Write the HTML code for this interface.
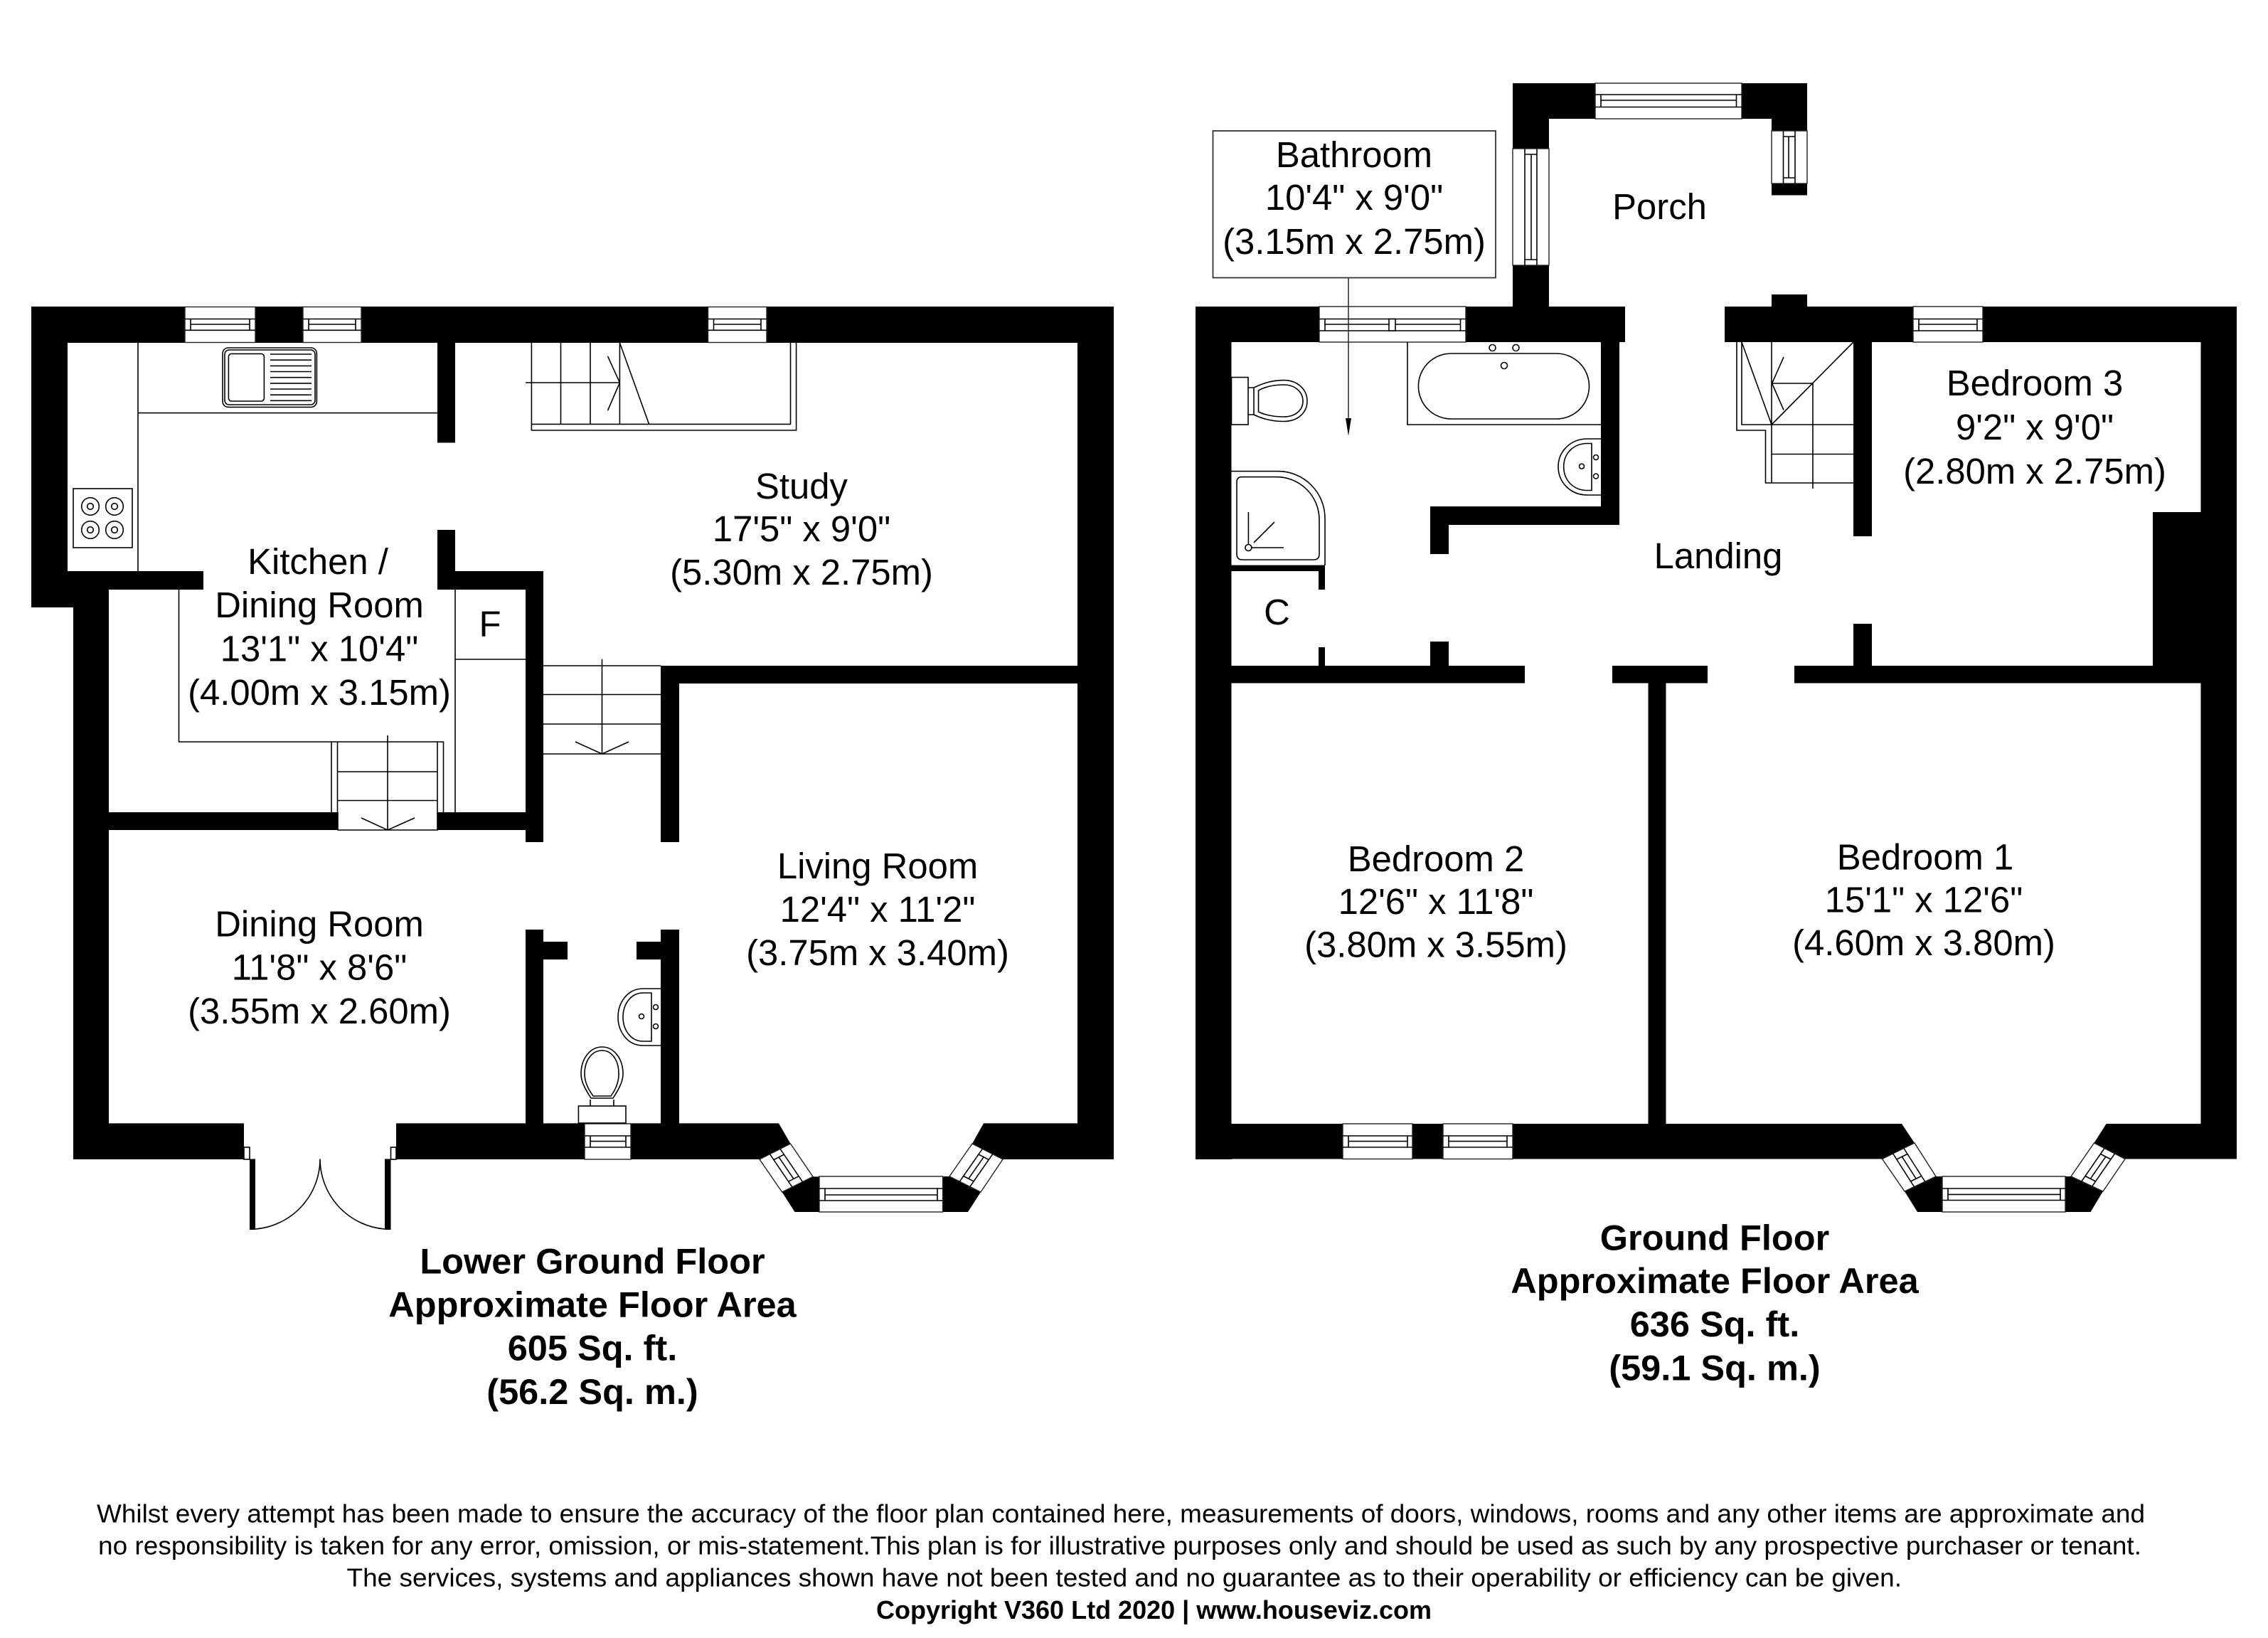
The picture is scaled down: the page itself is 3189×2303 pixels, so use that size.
<!DOCTYPE html>
<html lang="en"><head><meta charset="utf-8"><title>Floor Plan</title>
<style>
html,body{margin:0;padding:0;background:#fff}
svg{display:block}
.l{stroke:#000;stroke-width:1.6;fill:none}
.g{stroke:#333;stroke-width:1.8;fill:#fff}
.w{stroke:#222;stroke-width:1.4;fill:#fff}
.h{stroke:#000;stroke-width:1.6;fill:#fff}
text{font-family:"Liberation Sans",Arial,sans-serif;fill:#000}
.t{font-size:50.800px;text-anchor:middle}
.b{font-size:50.500px;font-weight:bold;text-anchor:middle}
.f{font-size:36px}
</style></head><body>
<svg xmlns="http://www.w3.org/2000/svg" width="3189" height="2303" viewBox="0 0 3189 2303">
<rect width="3189" height="2303" fill="#fff"/>

<!-- LOWER GROUND walls -->
<g fill="#000">
<rect x="44" y="431" width="1522" height="51"/>
<rect x="44" y="431" width="51" height="423"/>
<rect x="44" y="803" width="242" height="26"/>
<rect x="44" y="829" width="109" height="25"/>
<rect x="103" y="829" width="50" height="801"/>
<rect x="103" y="1142" width="372" height="25"/>
<rect x="615" y="1142" width="149" height="25"/>
<rect x="103" y="1579.4" width="240" height="50.6"/>
<path d="M557 1579.4H1095L1111.5 1608L1068 1630H557Z"/>
<path d="M1383 1579.4H1566V1630H1410L1367 1608Z"/>
<rect x="1515" y="431" width="51" height="1199"/>
<rect x="929" y="936" width="637" height="25"/>
<rect x="615" y="482" width="25" height="140.5"/>
<rect x="615" y="745" width="25" height="84"/>
<rect x="615" y="803" width="149" height="26"/>
<rect x="739" y="803" width="25" height="381"/>
<rect x="739" y="1307" width="25" height="273"/>
<rect x="739" y="1324" width="59" height="25"/>
<rect x="895" y="1324" width="60" height="25"/>
<rect x="929" y="936" width="26" height="248"/>
<rect x="929" y="1307" width="26" height="273"/>
<path d="M1143 1654.4H1152V1704H1117.5L1099.6 1676Z"/>
<path d="M1325.6 1654H1335L1379 1676L1361 1704H1325.6Z"/>
<rect x="351" y="1629.5" width="8" height="99.5"/>
<rect x="541" y="1629.5" width="8.5" height="99.5"/>
</g>

<!-- LOWER GROUND fittings -->
<rect class="h" x="343" y="1613" width="8" height="17"/>
<rect class="h" x="549.5" y="1613" width="7.5" height="17"/>
<path class="l" d="M359 1728A99 99 0 0 0 450 1629.5A99 99 0 0 0 541 1728"/>

<!-- windows lower -->
<rect class="w" x="260" y="431.5" width="99" height="50"/><path class="l" d="M260 448.5H359M260 464.3H359M268 448.5V464.3M351 448.5V464.3M268 456H351"/>
<rect class="w" x="426" y="431.5" width="82" height="50"/><path class="l" d="M426 448.5H508M426 464.3H508M434 448.5V464.3M500 448.5V464.3M434 456H500"/>
<rect class="w" x="995.5" y="431.5" width="82.5" height="50"/><path class="l" d="M995.5 448.5H1078M995.5 464.3H1078M1003.5 448.5V464.3M1070 448.5V464.3M1003.5 456H1070"/>
<rect class="w" x="822" y="1580" width="65" height="50"/><path class="l" d="M822 1597H887M822 1613H887M830 1597V1613M880 1597V1613M830 1604.6H880"/>
<rect class="w" x="1152" y="1654" width="173.6" height="50"/><path class="l" d="M1152 1671H1325.6M1152 1688H1325.6M1160 1671V1688M1318 1671V1688M1160 1680H1318"/>
<path class="w" d="M1111.5 1608L1143 1654.4L1099.6 1676L1068 1630Z"/>
<path class="l" d="M1097 1615.3L1128.5 1661.7M1082.5 1622.7L1114 1669.1M1102.4 1623.2L1087.9 1630.6M1123.1 1653.8L1108.6 1661.2M1095.1 1626.9L1115.9 1657.5"/>
<path class="w" d="M1367 1608L1410 1630L1379 1676L1335 1654Z"/>
<path class="l" d="M1381.3 1615.3L1349.3 1661.3M1395.7 1622.7L1363.7 1668.7M1375.9 1623.1L1390.3 1630.5M1354.7 1653.5L1369.1 1660.9M1383.1 1626.8L1361.9 1657.2"/>

<!-- kitchen counters -->
<path class="l" d="M194 482V803M194 580.6H615"/>
<rect class="l" x="313" y="489" width="132.400" height="83.400" rx="8"/>
<rect class="l" x="316" y="492" width="127" height="77" rx="6"/>
<rect class="l" x="321.400" y="497.400" width="50" height="66.600" rx="4"/>
<path class="l" d="M380 498H438M380 506.200H438M380 514.400H438M380 522.500H438M380 530.700H438M380 538.900H438M380 547H438M380 555.200H438M380 563.300H438"/>
<rect class="l" x="103" y="687" width="83" height="83"/>
<g class="l"><circle cx="127" cy="712" r="12.300"/><circle cx="127" cy="712" r="4.300"/><circle cx="161" cy="712" r="12.300"/><circle cx="161" cy="712" r="4.300"/><circle cx="127" cy="745" r="12.300"/><circle cx="127" cy="745" r="4.300"/><circle cx="161" cy="745" r="12.300"/><circle cx="161" cy="745" r="4.300"/></g>
<path class="l" d="M640 829V1142M640 927H739M251.500 829V1043H623.500V1142M466 1043V1142M474.500 1043V1142M615 1043V1142M474.500 1085H615M474.500 1125.500H615"/>
<rect x="475" y="1142" width="140" height="25" fill="#fff"/>
<path class="l" d="M475 1142V1167H615V1142M545 1034V1167M508 1150L545 1167L583 1150"/>
<!-- study stairs -->
<path class="l" d="M747.400 482V605H1119.600V482M747.400 596.400H1111.500V482M739 538H871.400M788.500 482V596.400M830 482V596.400M871.400 482V596.400M871.400 482L912.600 596.400M854.600 501L871.400 538L854.600 577"/>
<!-- central stairs -->
<path class="l" d="M764 936H929M764 976.500H929M764 1018H929M764 1060H929M846.500 927V1060M809 1043L846.500 1060L884 1043"/>
<!-- WC -->
<rect class="l" x="813.400" y="1555" width="66.600" height="24"/>
<path class="l" d="M830 1555V1546M863 1555V1546"/>
<path class="l" d="M831 1544C822 1530 817 1520 817 1510C817 1488 830 1472 846.500 1472C863 1472 876 1488 876 1510C876 1520 871 1530 862 1544Z"/>
<path class="l" d="M834 1541C826 1530 822 1520 822 1510C822 1490 833 1477 846.500 1477C860 1477 870 1490 870 1510C870 1520 867 1530 859 1541Z"/>
<path class="l" d="M929 1390H904C882 1390 869 1410 869 1430C869 1450 882 1470 904 1470H929"/>
<path class="l" d="M916 1396H904C887 1396 876 1412 876 1430C876 1448 887 1464 904 1464H916Z"/>
<circle class="l" cx="922" cy="1416" r="3.500"/><circle class="l" cx="922" cy="1443" r="3.500"/><circle class="l" cx="902" cy="1429" r="3.500"/>

<!-- GROUND walls -->
<g fill="#000">
<rect x="1681" y="431" width="604" height="50"/>
<rect x="2425" y="431" width="720" height="50"/>
<rect x="2127" y="117" width="51" height="314"/>
<rect x="2127" y="117" width="414" height="50"/>
<rect x="2491" y="117" width="50" height="157.500"/>
<rect x="2491" y="414" width="50" height="17"/>
<rect x="1681" y="431" width="50.500" height="1199"/>
<path d="M1681 1580H2674L2692 1607L2646.600 1629.500H1681Z"/>
<path d="M2961.600 1580H3145V1629.500H2988L2944.500 1607Z"/>
<rect x="3094.500" y="431" width="50.500" height="1198.500"/>
<rect x="3027" y="720" width="118" height="216"/>
<rect x="1681" y="936" width="463" height="24.500"/>
<rect x="2267" y="936" width="134" height="24.500"/>
<rect x="2523" y="936" width="622" height="24.500"/>
<rect x="2317.500" y="960" width="25" height="620"/>
<rect x="2251" y="481" width="26" height="257"/>
<rect x="2011" y="712" width="266" height="26"/>
<rect x="2011" y="712" width="26" height="67"/>
<rect x="2011" y="902" width="26" height="34"/>
<rect x="1681" y="794.600" width="182" height="8.400"/>
<rect x="1854" y="795" width="9" height="34"/>
<rect x="1854" y="910" width="9" height="26"/>
<rect x="2606" y="481" width="26" height="273"/>
<rect x="2606" y="877" width="26" height="59"/>
<path d="M2722 1654H2731V1704H2696L2678 1675Z"/>
<path d="M2904 1654H2912L2957 1675L2939.500 1704H2904Z"/>
</g>

<!-- windows ground -->
<rect class="w" x="1855" y="431" width="206" height="50"/><path class="l" d="M1855 448.500H2061M1855 465H2061M1863 448.500V465M2053.500 448.500V465M1863 456H2053.500"/><rect class="h" x="1953" y="448.500" width="9" height="16.500"/>
<rect class="w" x="2243" y="117" width="206" height="50"/><path class="l" d="M2243 133H2449M2243 150.500H2449M2251 133V150.500M2441.500 133V150.500M2251 141H2441.500"/>
<rect class="w" x="2127" y="209" width="51" height="164"/><path class="l" d="M2144 209V373M2161 209V373M2144 217H2161M2144 365H2161M2153 217V365"/>
<rect class="w" x="2491" y="184" width="50" height="74"/><path class="l" d="M2507.500 184V258M2524 184V258M2507.500 192H2524M2507.500 250H2524M2515 192V250"/>
<rect class="w" x="2690" y="431" width="98" height="50"/><path class="l" d="M2690 448.500H2788M2690 465H2788M2698 448.500V465M2780 448.500V465M2698 456H2780"/>
<rect class="w" x="1888" y="1580" width="98" height="49.500"/><path class="l" d="M1888 1597H1986M1888 1613H1986M1896 1597V1613M1979 1597V1613M1896 1604.600H1979"/>
<rect class="w" x="2029" y="1580" width="98" height="49.500"/><path class="l" d="M2029 1597H2127M2029 1613H2127M2037 1597V1613M2119 1597V1613M2037 1604.600H2119"/>
<rect class="w" x="2731" y="1654" width="173" height="50"/><path class="l" d="M2731 1671H2904M2731 1687.500H2904M2739 1671V1687.500M2897 1671V1687.500M2739 1679.400H2897"/>
<path class="w" d="M2692 1607L2722 1654L2678 1675L2646.600 1629.500Z"/>
<path class="l" d="M2676.900 1614.500L2706.900 1661.500M2661.700 1622L2691.700 1669M2682 1622.500L2666.800 1630M2701.800 1653.500L2686.600 1661M2674.400 1626.300L2694.200 1657.300"/>
<path class="w" d="M2944.500 1607L2988 1629.500L2957 1675L2912 1654Z"/>
<path class="l" d="M2959 1614.500L2926.500 1661.500M2973.500 1622L2941 1669M2953.500 1622.500L2968 1630M2932 1653.500L2946.500 1661M2960.800 1626.300L2939.300 1657.300"/>

<!-- bathroom fittings -->
<path class="l" d="M1979 481V597H2251"/>
<rect class="l" x="1994.400" y="497" width="240.100" height="92" rx="46"/>
<circle class="l" cx="2098.500" cy="489" r="4.500"/><circle class="l" cx="2131.500" cy="489" r="4.500"/><circle class="l" cx="2115" cy="514" r="4.500"/>
<rect class="l" x="1731.500" y="530.500" width="23.500" height="66.500"/>
<path class="l" d="M1755 545H1763M1755 583H1763"/>
<path class="l" d="M1763 545C1777 538 1790 534.600 1805 534.600C1825 534.600 1838 548 1838 564C1838 580 1825 592.500 1805 592.500C1790 592.500 1777 590 1763 583Z"/>
<path class="l" d="M1769.500 549C1780 543 1792 541 1805 541C1821 541 1832 551 1832 564C1832 577 1821 586 1805 586C1792 586 1780 584 1769.500 579Z"/>
<path class="l" d="M2251 617H2232C2208 617 2191 635 2191 656C2191 678 2208 696 2232 696H2251"/>
<path class="l" d="M2238 623.500H2232C2212 623.500 2198.700 638 2198.700 656C2198.700 675 2212 689.500 2232 689.500H2238Z"/>
<circle class="l" cx="2244" cy="643" r="3.500"/><circle class="l" cx="2244" cy="669.500" r="3.500"/><circle class="l" cx="2224" cy="655.600" r="3.500"/>
<path class="l" d="M1731.500 662.600H1797A66 66 0 0 1 1863 728.600V795"/>
<path class="l" d="M1746 670.600H1795A60 60 0 0 1 1855 730V779Q1855 787 1847 787H1747Q1739 787 1739 779V678Q1739 670.600 1746 670.600Z"/>
<circle class="l" cx="1755.400" cy="770" r="4.500"/>
<path class="l" d="M1755.400 720V765M1760 770H1805M1763 763L1792 734"/>
<!-- landing stairs -->
<path class="l" d="M2442 481V605H2482.500V679H2606M2449 481V597H2606M2491 481V679M2449 481L2491 597L2606 481M2491 539H2549M2549 539V687M2491 638.500H2606M2508 502L2491.600 539L2508 576.500"/>

<!-- bathroom call-out -->
<rect class="g" x="1705.500" y="184" width="397.500" height="206.500"/>
<path d="M1896 390.500V590" stroke="#333" stroke-width="1.600" fill="none"/>
<path d="M1892 588H1900L1896 612.600Z" fill="#000"/>

<!-- labels lower -->
<text class="t" x="447" y="807">Kitchen /</text>
<text class="t" x="449" y="868">Dining Room</text>
<text class="t" x="449" y="929.500">13'1&quot; x 10'4&quot;</text>
<text class="t" x="449" y="991">(4.00m x 3.15m)</text>
<text class="t" x="689" y="895">F</text>
<text class="t" x="1127" y="701">Study</text>
<text class="t" x="1127" y="761">17'5&quot; x 9'0&quot;</text>
<text class="t" x="1127" y="822">(5.30m x 2.75m)</text>
<text class="t" x="449" y="1316.500">Dining Room</text>
<text class="t" x="449" y="1377.700">11'8&quot; x 8'6&quot;</text>
<text class="t" x="449" y="1439">(3.55m x 2.60m)</text>
<text class="t" x="1234" y="1235">Living Room</text>
<text class="t" x="1234" y="1296">12'4&quot; x 11'2&quot;</text>
<text class="t" x="1234" y="1357">(3.75m x 3.40m)</text>

<!-- labels ground -->
<text class="t" x="1904" y="235">Bathroom</text>
<text class="t" x="1904" y="295">10'4&quot; x 9'0&quot;</text>
<text class="t" x="1904" y="357">(3.15m x 2.75m)</text>
<text class="t" x="2333.500" y="308">Porch</text>
<text class="t" x="2416" y="799">Landing</text>
<text class="t" x="1795.500" y="878">C</text>
<text class="t" x="2861" y="556">Bedroom 3</text>
<text class="t" x="2861" y="618">9'2&quot; x 9'0&quot;</text>
<text class="t" x="2861" y="680">(2.80m x 2.75m)</text>
<text class="t" x="2019" y="1225">Bedroom 2</text>
<text class="t" x="2019" y="1285">12'6&quot; x 11'8&quot;</text>
<text class="t" x="2019" y="1345.500">(3.80m x 3.55m)</text>
<text class="t" x="2707" y="1222.500">Bedroom 1</text>
<text class="t" x="2705" y="1282.700">15'1&quot; x 12'6&quot;</text>
<text class="t" x="2705" y="1343">(4.60m x 3.80m)</text>

<!-- titles -->
<text class="b" x="833" y="1790.700">Lower Ground Floor</text>
<text class="b" x="833" y="1851.700">Approximate Floor Area</text>
<text class="b" x="833" y="1912.700">605 Sq. ft.</text>
<text class="b" x="833" y="1974">(56.2 Sq. m.)</text>
<text class="b" x="2411" y="1757.300">Ground Floor</text>
<text class="b" x="2411" y="1818">Approximate Floor Area</text>
<text class="b" x="2411" y="1879">636 Sq. ft.</text>
<text class="b" x="2411" y="1940.700">(59.1 Sq. m.)</text>

<!-- footer -->
<text class="f" x="136" y="2140.700" textLength="2880" lengthAdjust="spacingAndGlyphs">Whilst every attempt has been made to ensure the accuracy of the floor plan contained here, measurements of doors, windows, rooms and any other items are approximate and</text>
<text class="f" x="138" y="2185.700" textLength="2873" lengthAdjust="spacingAndGlyphs">no responsibility is taken for any error, omission, or mis-statement.This plan is for illustrative purposes only and should be used as such by any prospective purchaser or tenant.</text>
<text class="f" x="487.500" y="2230.700" textLength="2186.500" lengthAdjust="spacingAndGlyphs">The services, systems and appliances shown have not been tested and no guarantee as to their operability or efficiency can be given.</text>
<text class="f" x="1232" y="2276" font-weight="bold" textLength="781" lengthAdjust="spacingAndGlyphs">Copyright V360 Ltd 2020 | www.houseviz.com</text>
</svg>
</body></html>
